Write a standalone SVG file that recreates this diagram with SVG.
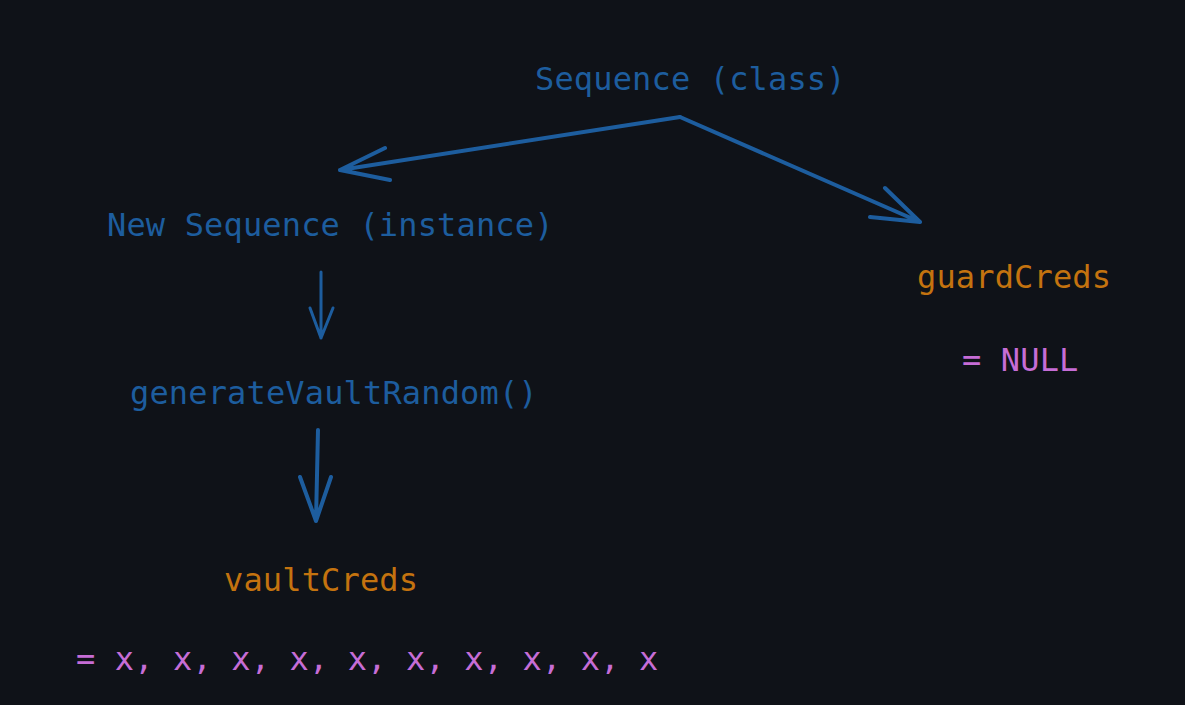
<svg xmlns="http://www.w3.org/2000/svg" width="1185" height="705" viewBox="0 0 1185 705">
<style>
.t{font-family:"DejaVu Sans Mono","Liberation Mono",monospace;font-size:32px;letter-spacing:0.15px}
.b{fill:#1d5d9e}
.o{fill:#c4730f}
.p{fill:#c66dd6}
.c{fill:none;stroke:#1d5d9e;stroke-linecap:round;stroke-linejoin:round}
</style>
<rect width="1185" height="705" fill="#0f1218"/>
<g id="n-class"><text class="t b" x="535" y="90">Sequence (class)</text></g>
<g id="n-instance"><text class="t b" x="107" y="236">New Sequence (instance)</text></g>
<g id="n-generate"><text class="t b" x="130" y="404">generateVaultRandom()</text></g>
<g id="n-guard"><text class="t o" x="917" y="288">guardCreds</text><text class="t p" x="962" y="371">= NULL</text></g>
<g id="n-vault"><text class="t o" x="224" y="591">vaultCreds</text><text class="t p" x="76" y="670">= x, x, x, x, x, x, x, x, x, x</text></g>
<g id="connectors">
<path class="c" stroke-width="4" d="M680 117 L340 170 M340 170 L385 148 M340 170 L390 180"/>
<path class="c" stroke-width="4" d="M680 117 L920 222 M920 222 L885 188 M920 222 L870 217"/>
<path class="c" stroke-width="3" d="M321 272 L321 338 M321 338 L310 308 M321 338 L333 308"/>
<path class="c" stroke-width="4" d="M318 430 L316 521 M316 521 L300 477 M316 521 L331 477"/>
</g>
</svg>
